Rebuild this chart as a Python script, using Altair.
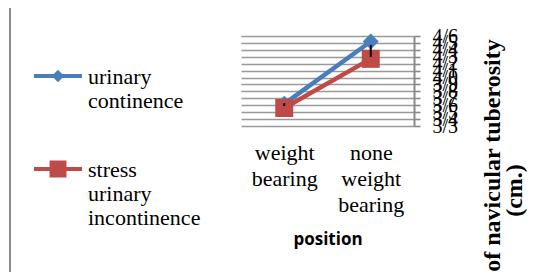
import altair as alt
import pandas as pd

categories = ["weight bearing", "none weight bearing"]
series_names = ["urinary continence", "stress urinary incontinence"]
continence = [3.62, 4.52]
stress_incontinence = [3.56, 4.27]
err_low = [3.59, 4.30]
err_high = [3.63, 4.47]
y_ticks = [3.3, 3.4, 3.5, 3.6, 3.7, 3.8, 3.9, 4.0, 4.1, 4.2, 4.3, 4.4, 4.5, 4.6]
colors = ["#4A7EBB", "#BE4B48"]
y_title = ["height of navicular tuberosity", "(cm.)"]
x_title = "position"

rows = []
for s, vals in zip(series_names, [continence, stress_incontinence]):
    for c, v in zip(categories, vals):
        rows.append({"position": c, "series": s, "value": v})
df = pd.DataFrame(rows)
err = pd.DataFrame({"position": categories, "low": err_low, "high": err_high})

SERIF = "Liberation Serif"

x_axis = alt.Axis(
    orient="bottom", labelAngle=0, labelExpr="split(datum.label, ' ')",
    labelFont=SERIF, labelFontSize=22, labelLineHeight=26, labelBaseline="top",
    labelPadding=16, labelColor="black", ticks=False, domain=False, grid=False,
    titleFont="Open Sans", titleFontWeight="bold", titleFontSize=17,
    titleColor="black", titlePadding=16,
)
y_axis = alt.Axis(
    orient="right", values=y_ticks,
    labelExpr="replace(format(datum.value, '.1f'), '.', '/')",
    labelFont=SERIF, labelFontSize=20, labelColor="black", labelOverlap=False,
    labelPadding=12, grid=True, gridColor="#999999", gridWidth=1.6,
    domainColor="#888888", domainWidth=2, tickColor="#888888", tickSize=6,
    tickWidth=1.6,
    titleAngle=270, titleFont=SERIF, titleFontWeight="bold", titleFontSize=24,
    titleLineHeight=22, titleX=66, titleY=154, titleAlign="center",
    titleBaseline="top", titleColor="black", titleLimit=1000,
)

x_enc = alt.X("position:N", sort=categories,
              scale=alt.Scale(type="point", padding=0.5), axis=x_axis, title=x_title)
y_scale = alt.Scale(domain=[3.3, 4.6], nice=False, zero=False)
y_enc = alt.Y("value:Q", scale=y_scale, axis=y_axis, title=y_title)


def legend_symbol(kind, half, dy):
    line = f"M-1,{dy}L1,{dy}"
    if kind == "diamond":
        mk = f"M0,{dy - half}L{half},{dy}L0,{dy + half}L{-half},{dy}Z"
    else:
        mk = (f"M{-half},{dy - half}L{half},{dy - half}"
              f"L{half},{dy + half}L{-half},{dy + half}Z")
    return line + mk


lines = alt.Chart(df).mark_line(strokeWidth=4.5).encode(
    x=x_enc, y=y_enc,
    color=alt.Color("series:N", scale=alt.Scale(domain=series_names, range=colors),
                    legend=None),
)


def point_layer(i, shape, size, half, legend_y, dy):
    name = series_names[i]
    return alt.Chart(df).transform_filter(alt.datum.series == name).mark_point(
        filled=True, shape=shape, size=size, opacity=1
    ).encode(
        x=x_enc, y=y_enc,
        color=alt.Color("series:N",
                        scale=alt.Scale(domain=[name], range=[colors[i]]),
                        legend=alt.Legend(
                            title=None, orient="none", legendX=-209, legendY=legend_y,
                            symbolType=legend_symbol(shape, half, dy),
                            symbolSize=2304, symbolFillColor=colors[i],
                            symbolStrokeColor=colors[i], symbolStrokeWidth=4,
                            labelExpr="split(datum.label, ' ')", labelFont=SERIF,
                            labelFontSize=22, labelColor="black",
                            labelBaseline="top", labelOffset=4, padding=0,
                            labelLimit=300)),
    )


blue_pts = point_layer(0, "diamond", 256, 0.14, 5, 0.375)
red_pts = point_layer(1, "square", 324, 0.27, 98, 0.375)

errs = alt.Chart(err).mark_rule(color="black", strokeWidth=2).encode(
    x=x_enc,
    y=alt.Y("low:Q", scale=y_scale, axis=y_axis, title=y_title),
    y2="high:Q",
)

border = alt.Chart(pd.DataFrame({"a": [0]})).mark_rule(
    color="#8a8a8a", strokeWidth=2
).encode(x=alt.value(-231), y=alt.value(-40), y2=alt.value(260))

chart = alt.layer(lines, blue_pts, red_pts, errs, border).resolve_scale(
    color="independent"
).properties(
    width=173, height=90,
    padding={"left": 233, "top": 28, "right": 126, "bottom": 146},
    autosize="none", background="white",
).configure_view(stroke=None)

chart.save("out.html", embed_options={"renderer": "svg", "actions": False})
